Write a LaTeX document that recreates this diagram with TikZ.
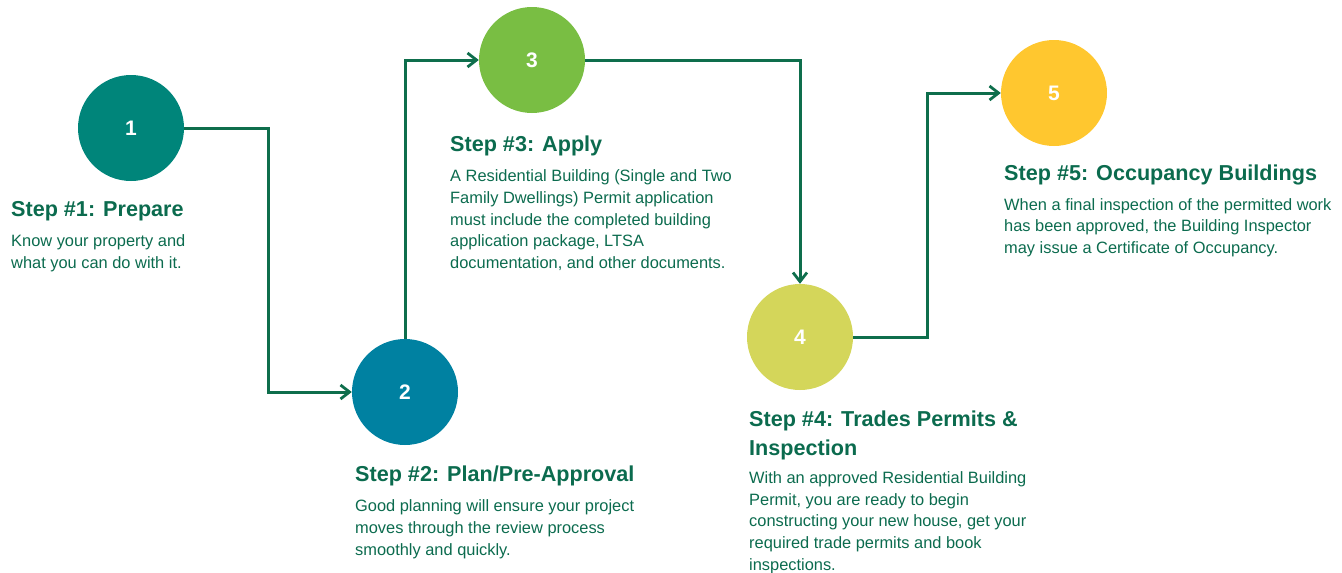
\documentclass[tikz,border=0pt]{standalone}
\usepackage{fontspec}
\setmainfont{Liberation Sans}
\usetikzlibrary{arrows.meta}
\definecolor{linegreen}{HTML}{0E6E4C}
\definecolor{txtgreen}{HTML}{0B6B4E}
\definecolor{cA}{HTML}{00857A}
\definecolor{cB}{HTML}{0081A1}
\definecolor{cC}{HTML}{79BE43}
\definecolor{cD}{HTML}{D4D65A}
\definecolor{cE}{HTML}{FFC72F}
\begin{document}
\begin{tikzpicture}[x=1pt,y=-1pt,
  stepcircle/.style={circle,minimum size=106pt,inner sep=0pt,text=white,font=\fontsize{21}{25}\selectfont\bfseries},
  conn/.style={draw=linegreen,line width=3pt,-{Straight Barb[length=9pt,width=14pt,line width=2.8pt]}},
  ttl/.style={anchor=base west,inner sep=0pt,text=txtgreen,font=\fontsize{21.6}{28.5}\selectfont\bfseries,align=left},
  bdy/.style={anchor=base west,inner sep=0pt,text=txtgreen,font=\fontsize{16.4}{21.7}\selectfont,align=left}]
\useasboundingbox (0,0) rectangle (1342,573);
% circles
\node[stepcircle,fill=cA] (c1) at (131,128) {1};
\node[stepcircle,fill=cB] (c2) at (405,392) {2};
\node[stepcircle,fill=cC] (c3) at (532,60) {3};
\node[stepcircle,fill=cD] (c4) at (800,337) {4};
\node[stepcircle,fill=cE] (c5) at (1054,93) {5};
% bends
\coordinate (b1) at (268,128);
\coordinate (b4) at (927,337);
% connectors
\draw[conn] (c1.east) -- (b1) |- (c2.west);
\draw[conn] (c2.north) |- (c3.west);
\draw[conn] (c3.east) -| (c4.north);
\draw[conn] (c4.east) -- (b4) |- (c5.west);
% texts (base anchor = baseline of last line)
\node[ttl] (t1) at (11,216.7) {Step \#1: Prepare};
\node[bdy] (d1) at (11,268.4) {Know your property and\\what you can do with it.};
\node[ttl] (t2) at (355,481.7) {Step \#2: Plan/Pre-Approval};
\node[bdy] (d2) at (355,555.1) {Good planning will ensure your project\\moves through the review process\\smoothly and quickly.};
\node[ttl] (t3) at (450,151.7) {Step \#3: Apply};
\node[bdy] (d3) at (450,268.5) {A Residential Building (Single and Two\\Family Dwellings) Permit application\\must include the completed building\\application package, LTSA\\documentation, and other documents.};
\node[ttl] (t4) at (749,455.2) {Step \#4: Trades Permits \&\\Inspection};
\node[bdy] (d4) at (749,570.1) {With an approved Residential Building\\Permit, you are ready to begin\\constructing your new house, get your\\required trade permits and book\\inspections.};
\node[ttl] (t5) at (1004,180) {Step \#5: Occupancy Buildings};
\node[bdy] (d5) at (1004,253.4) {When a final inspection of the permitted work\\has been approved, the Building Inspector\\may issue a Certificate of Occupancy.};
\end{tikzpicture}
\end{document}
